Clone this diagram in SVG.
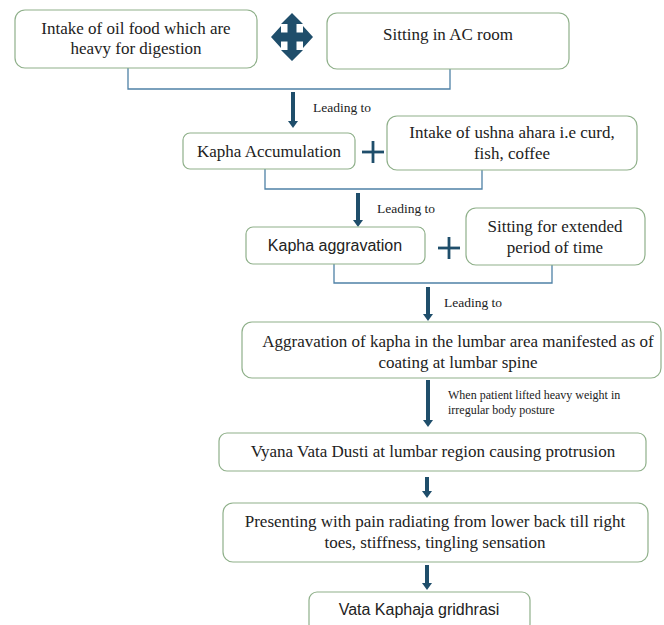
<svg xmlns="http://www.w3.org/2000/svg" width="664" height="625" viewBox="0 0 664 625">
<defs>
<style>
.box{fill:#fff;stroke:#8fb08a;stroke-width:1.2}
.s{font-family:"Liberation Serif","Times New Roman",serif;fill:#222;text-anchor:middle;font-size:17px}
.ss{font-family:"Liberation Sans",Arial,sans-serif;fill:#222;text-anchor:middle;font-size:16px}
.lbl{font-family:"Liberation Serif","Times New Roman",serif;fill:#222}
.br{fill:none;stroke:#4f81a6;stroke-width:1.3}
.ar{stroke:#1f4e6b;stroke-width:4;fill:none}
.hd{fill:#1f4e6b}
.plus{stroke:#1f4e6b;stroke-width:2.8}
</style>
</defs>
<rect width="664" height="625" fill="#fff"/>

<g id="connectors">
<path class="br" d="M128,68 V89 H450 V69"/>
<path class="br" d="M265,169 V189 H482 V170"/>
<path class="br" d="M334,264 V283 H552 V265"/>
<line class="ar" x1="293" y1="92" x2="293" y2="122"/>
<path class="hd" d="M288,121 H298 L293,128 Z"/>
<line class="ar" x1="358" y1="193" x2="358" y2="221"/>
<path class="hd" d="M353,220 H363 L358,227 Z"/>
<line class="ar" x1="428" y1="287" x2="428" y2="315"/>
<path class="hd" d="M423,314 H433 L428,321 Z"/>
<line class="ar" x1="428" y1="380" x2="428" y2="421"/>
<path class="hd" d="M423,420 H433 L428,427 Z"/>
<line class="ar" x1="427" y1="477" x2="427" y2="492"/>
<path class="hd" d="M422,491 H432 L427,498 Z"/>
<line class="ar" x1="427" y1="565" x2="427" y2="584"/>
<path class="hd" d="M422,583 H432 L427,590 Z"/>
<text class="lbl" x="313" y="112" font-size="13.5">Leading to</text>
<text class="lbl" x="377" y="213" font-size="13.5">Leading to</text>
<text class="lbl" x="444" y="307" font-size="13.5">Leading to</text>
<text class="lbl" x="448" y="399" font-size="12">When patient lifted heavy weight in</text>
<text class="lbl" x="448" y="414" font-size="12">irregular body posture</text>
</g>

<g id="n1">
<rect class="box" x="15" y="10" width="242" height="58" rx="10"/>
<text class="s" x="136" y="34">Intake of oil food which are</text>
<text class="s" x="136" y="54">heavy for digestion</text>
</g>
<g id="cross">
<path class="hd" d="M292,13 L303,24 L296.5,24 L296.5,32.5 L303,32.5 L303,26 L313,37 L303,48 L303,41.5 L296.5,41.5 L296.5,50 L303,50 L292,61 L281,50 L287.5,50 L287.5,41.5 L281,41.5 L281,48 L271,37 L281,26 L281,32.5 L287.5,32.5 L287.5,24 L281,24 Z"/>
</g>
<g id="n2">
<rect class="box" x="327" y="13" width="242" height="56" rx="10"/>
<text class="s" x="448" y="40">Sitting in AC room</text>
</g>
<g id="n3">
<rect class="box" x="183" y="133" width="172" height="36" rx="7"/>
<text class="s" x="269" y="157">Kapha Accumulation</text>
</g>
<g id="plus1">
<line class="plus" x1="362" y1="152" x2="384" y2="152"/>
<line class="plus" x1="373" y1="141" x2="373" y2="163"/>
</g>
<g id="n4">
<rect class="box" x="387" y="116" width="250" height="54" rx="10"/>
<text class="s" x="512" y="138">Intake of ushna ahara i.e curd,</text>
<text class="s" x="512" y="159">fish, coffee</text>
</g>
<g id="n5">
<rect class="box" x="246" y="227" width="179" height="37" rx="7"/>
<text class="ss" x="335" y="251">Kapha aggravation</text>
</g>
<g id="plus2">
<line class="plus" x1="438" y1="248" x2="460" y2="248"/>
<line class="plus" x1="449" y1="237" x2="449" y2="259"/>
</g>
<g id="n6">
<rect class="box" x="466" y="208" width="179" height="57" rx="10"/>
<text class="s" x="555" y="232">Sitting for extended</text>
<text class="s" x="555" y="253">period of time</text>
</g>
<g id="n7">
<rect class="box" x="242" y="322" width="419" height="56" rx="10"/>
<text class="s" x="458" y="347">Aggravation of kapha in the lumbar area manifested as of</text>
<text class="s" x="458" y="368">coating at lumbar spine</text>
</g>
<g id="n8">
<rect class="box" x="219" y="433" width="427" height="38" rx="8"/>
<text class="s" x="433" y="457">Vyana Vata Dusti at lumbar region causing protrusion</text>
</g>
<g id="n9">
<rect class="box" x="223" y="503" width="425" height="59" rx="10"/>
<text class="s" x="435" y="527">Presenting with pain radiating from lower back till right</text>
<text class="s" x="435" y="548">toes, stiffness, tingling sensation</text>
</g>
<g id="n10">
<rect class="box" x="309" y="592" width="221" height="40" rx="8"/>
<text class="ss" x="419" y="615">Vata Kaphaja gridhrasi</text>
</g>
</svg>
